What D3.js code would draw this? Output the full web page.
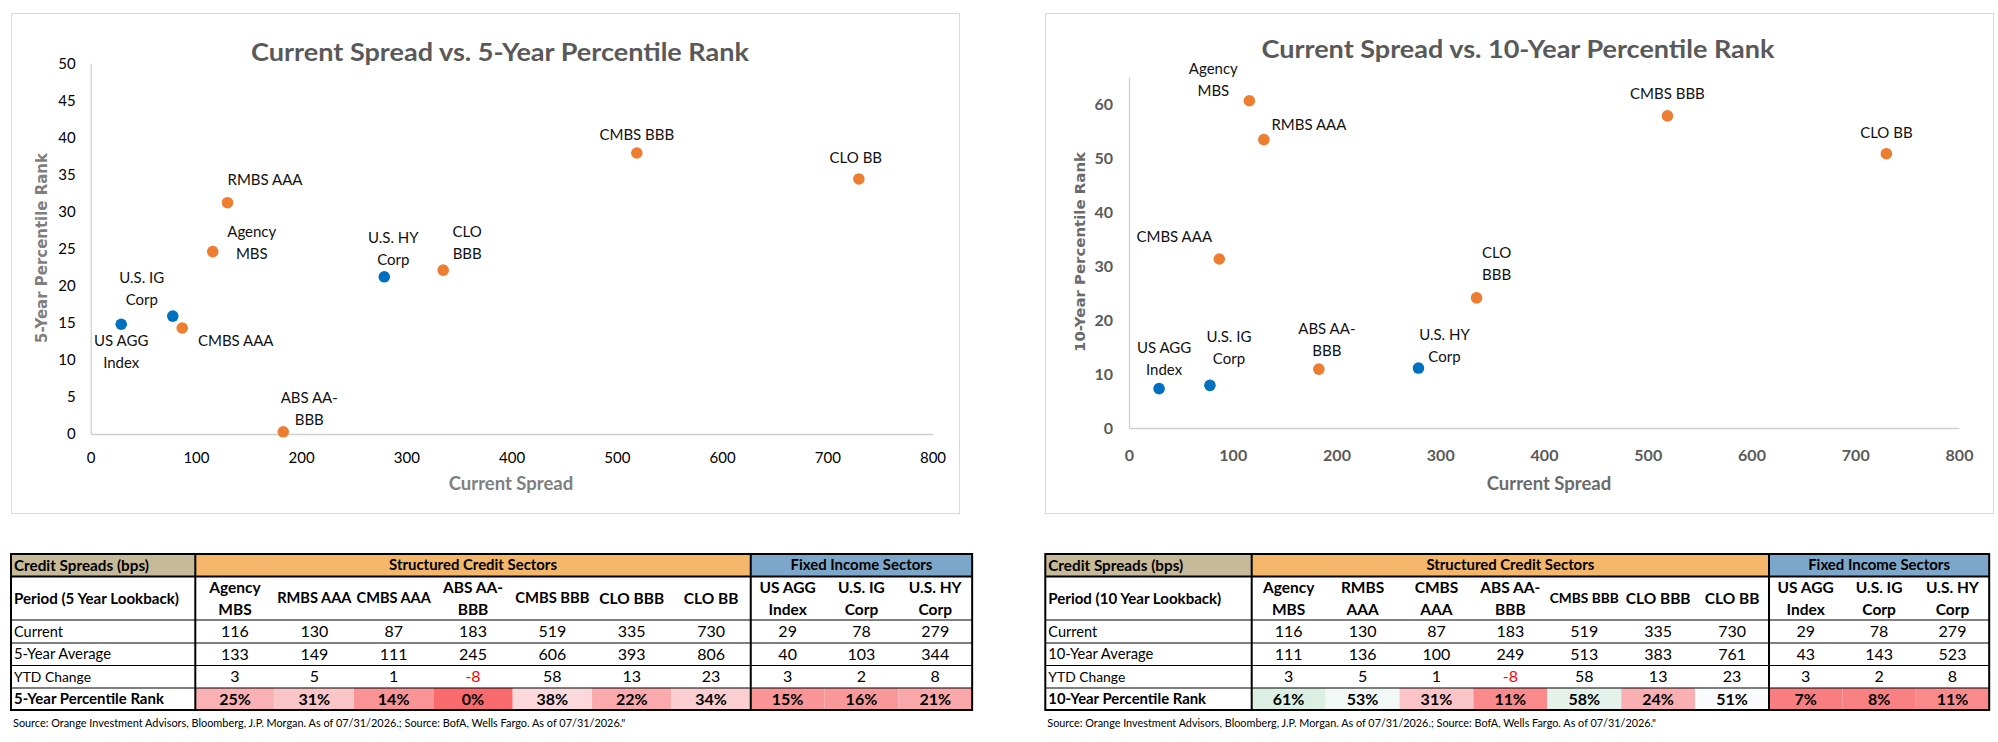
<!DOCTYPE html>
<html>
<head>
<meta charset="utf-8">
<script src="https://cdn.jsdelivr.net/npm/d3@7"></script>
<style>
  html, body { margin: 0; padding: 0; background: #fff; }
  svg { display: block; }
</style>
</head>
<body>
<svg id="chart" width="1998" height="742"></svg>
<script>
// ---------------- DATA ----------------
const sectors = ["Agency MBS","RMBS AAA","CMBS AAA","ABS AA-BBB","CMBS BBB","CLO BBB","CLO BB","US AGG Index","U.S. IG Corp","U.S. HY Corp"];
const sectorGroup = ["S","S","S","S","S","S","S","F","F","F"]; // S = structured credit, F = fixed income
const chartLabels = ["Agency\nMBS","RMBS AAA","CMBS AAA","ABS AA-\nBBB","CMBS BBB","CLO\nBBB","CLO BB","US AGG\nIndex","U.S. IG\nCorp","U.S. HY\nCorp"];
const headers5 = ["Agency\nMBS","RMBS AAA","CMBS AAA","ABS AA-\nBBB","CMBS BBB","CLO BBB","CLO BB","US AGG\nIndex","U.S. IG\nCorp","U.S. HY\nCorp"];
const headers10 = ["Agency\nMBS","RMBS\nAAA","CMBS\nAAA","ABS AA-\nBBB","CMBS BBB","CLO BBB","CLO BB","US AGG\nIndex","U.S. IG\nCorp","U.S. HY\nCorp"];
const currentSpread = [116,130,87,183,519,335,730,29,78,279];
const avg5 = [133,149,111,245,606,393,806,40,103,344];
const avg10 = [111,136,100,249,513,383,761,43,143,523];
const ytdChange = [3,5,1,-8,58,13,23,3,2,8];
const rank5 = [24.6,31.2,14.3,0.3,37.9,22.1,34.4,14.8,15.9,21.2];
const rank10 = [60.6,53.4,31.3,10.9,57.8,24.1,50.8,7.3,7.9,11.1];
const xTicks = [0,100,200,300,400,500,600,700,800];
const yTicks5 = [0,5,10,15,20,25,30,35,40,45,50];
const yTicks10 = [0,10,20,30,40,50,60];
const sourceText = "Source: Orange Investment Advisors, Bloomberg, J.P. Morgan. As of 07/31/2026.; Source: BofA, Wells Fargo. As of 07/31/2026.\"";

// ---------------- LAYOUT ----------------
const FONT = "Lato, 'Open Sans', sans-serif";
const AXF = "'DejaVu Sans', Verdana, sans-serif";
const ORANGE = "#ED7D31", BLUE = "#0070C0";
const svg = d3.select("#chart");
svg.append("rect").attr("width",1998).attr("height",742).attr("fill","#fff");

// scale a text's font-size so it spans the target width; stretch if it would get too large
function fit(sel, target, maxSize) {
  const node = sel.node();
  const s0 = parseFloat(sel.attr("font-size"));
  const w = node.getComputedTextLength();
  if (!w) return sel;
  let s = s0 * target / w;
  if (maxSize && s > maxSize) {
    sel.attr("font-size", maxSize);
    sel.attr("textLength", target).attr("lengthAdjust", "spacingAndGlyphs");
  } else {
    sel.attr("font-size", s);
  }
  return sel;
}

// label offsets (text block centre relative to point)
const labelOff5 = [[39,-9],[37.5,-22.7],[53.5,12.7],[26,-23],[0,-18],[24,-27],[-3,-21],[0,27],[-31,-27],[9,-28]];
const labelOff10 = [[-36,-21],[45,-15],[-45,-22],[8,-29],[0,-22],[20,-34],[0,-21],[5,-30],[19,-38],[26,-22]];

function drawChart(cfg) {
  const g = svg.append("g");
  g.append("rect").attr("x", cfg.box[0]+0.5).attr("y", 13.5).attr("width", 948).attr("height", 500)
    .attr("fill","#fff").attr("stroke","#D9D9D9").attr("stroke-width",1);

  const x = d3.scaleLinear().domain([0,800]).range(cfg.xr);
  const y = d3.scaleLinear().domain(cfg.yd).range(cfg.yr);

  const xa = g.append("g").attr("transform",`translate(0,${cfg.yr[0]})`)
    .call(d3.axisBottom(x).tickValues(xTicks).tickSize(0).tickPadding(cfg.xPad));
  const ya = g.append("g").attr("transform",`translate(${cfg.xr[0]},0)`)
    .call(d3.axisLeft(y).tickValues(cfg.yTicks).tickSize(0).tickPadding(cfg.yPad));
  [xa, ya].forEach(a => {
    a.select(".domain").attr("stroke","#D0D0D0").attr("stroke-width",1.3);
    a.selectAll("text").attr("font-family",FONT).attr("font-size",cfg.tickSize)
      .attr("font-weight",cfg.tickWeight).attr("fill",cfg.tickColor);
  });

  g.append("text").attr("x",cfg.title[1]).attr("y",cfg.title[2]).attr("dy","0.35em")
    .attr("text-anchor","middle").attr("font-family",FONT).attr("font-weight",700)
    .attr("font-size",25).attr("fill","#595959")
    .attr("textLength",cfg.title[3]).attr("lengthAdjust","spacingAndGlyphs")
    .text(cfg.title[0]);
  g.append("text").attr("x",cfg.xTitle[0]).attr("y",cfg.xTitle[1]).attr("dy","0.35em")
    .attr("text-anchor","middle").attr("font-family",FONT).attr("font-weight",700)
    .attr("font-size",18.5).attr("fill",cfg.axTitleColor).text("Current Spread");
  const yt = g.append("text").attr("transform",`translate(${cfg.yTitle[1]},${cfg.yTitle[2]}) rotate(-90)`)
    .attr("dy","0.35em").attr("text-anchor","middle").attr("font-family",AXF).attr("font-weight",700)
    .attr("font-size",14.5).attr("fill",cfg.axTitleColor).text(cfg.yTitle[0]);
  fit(yt, cfg.yTitle[3], 16.5);

  const pts = sectors.map((s,i) => ({i, xv: currentSpread[i], yv: cfg.rank[i], grp: sectorGroup[i]}));
  g.selectAll("circle.pt").data(pts).enter().append("circle")
    .attr("cx", d => x(d.xv)).attr("cy", d => y(d.yv)).attr("r", 5.8)
    .attr("fill", d => d.grp === "S" ? ORANGE : BLUE);

  pts.forEach(d => {
    const lines = chartLabels[d.i].split("\n");
    const off = cfg.off[d.i];
    const cx = x(d.xv) + off[0], cy = y(d.yv) + off[1];
    const lh = 22;
    const t = g.append("text").attr("text-anchor","middle").attr("font-family",FONT)
      .attr("font-size",15).attr("fill","#111");
    lines.forEach((ln,k) => {
      t.append("tspan").attr("x",cx).attr("y", cy + (k - (lines.length-1)/2)*lh).attr("dy","0.35em").text(ln);
    });
  });
}

drawChart({
  box:[11], xr:[90.7,932.5], yd:[0,50], yr:[434,63.3], yTicks: yTicks5, rank: rank5, off: labelOff5,
  xPad:18.5, yPad:15, tickSize:15, tickWeight:400, tickColor:"#000",
  title:["Current Spread vs. 5-Year Percentile Rank",500,52,498],
  xTitle:[511,484], yTitle:["5-Year Percentile Rank",42,248,190], axTitleColor:"#7F7F7F"
});
drawChart({
  box:[1045], xr:[1129,1959], yd:[0,65], yr:[428,77], yTicks: yTicks10, rank: rank10, off: labelOff10,
  xPad:22, yPad:16, tickSize:16, tickWeight:700, tickColor:"#595959",
  title:["Current Spread vs. 10-Year Percentile Rank",1518,49,513],
  xTitle:[1549,484], yTitle:["10-Year Percentile Rank",1080,252,200], axTitleColor:"#6B6B6B"
});

// ---------------- TABLES ----------------
const rankColor = d3.scaleLinear().domain([0,50,100]).range(["#F8696B","#FCFCFF","#63BE7B"]);
const rowY = [554, 576.5, 620, 643, 665.5, 688, 710];

function drawTable(cfg) {
  const g = svg.append("g");
  const colX = [cfg.x0, cfg.x0 + cfg.c0];
  for (let i=0;i<7;i++) colX.push(colX[colX.length-1] + cfg.sw);
  for (let i=0;i<3;i++) colX.push(colX[colX.length-1] + cfg.fw);
  const xEnd = colX[colX.length-1];
  const sEnd = colX[8];
  g.append("rect").attr("x",colX[0]).attr("y",rowY[0]).attr("width",colX[1]-colX[0]).attr("height",rowY[1]-rowY[0]).attr("fill","#C6BA9A");
  g.append("rect").attr("x",colX[1]).attr("y",rowY[0]).attr("width",sEnd-colX[1]).attr("height",rowY[1]-rowY[0]).attr("fill","#F3B66A");
  g.append("rect").attr("x",sEnd).attr("y",rowY[0]).attr("width",xEnd-sEnd).attr("height",rowY[1]-rowY[0]).attr("fill","#7DA7CA");
  cfg.rank.forEach((v,i) => {
    g.append("rect").attr("x",colX[i+1]).attr("y",rowY[5]).attr("width",colX[i+2]-colX[i+1]).attr("height",rowY[6]-rowY[5])
      .attr("fill", rankColor(v));
  });
  const line = (x1,y1,x2,y2,w) => g.append("line").attr("x1",x1).attr("y1",y1).attr("x2",x2).attr("y2",y2)
      .attr("stroke","#000").attr("stroke-width",w);
  [2,3,4,5].forEach(r => line(colX[0],rowY[r],xEnd,rowY[r],1.2));
  line(colX[0],rowY[1],xEnd,rowY[1],2);
  line(colX[1],rowY[0],colX[1],rowY[6],2);
  line(sEnd,rowY[0],sEnd,rowY[6],2);
  g.append("rect").attr("x",colX[0]).attr("y",rowY[0]).attr("width",xEnd-colX[0]).attr("height",rowY[6]-rowY[0])
    .attr("fill","none").attr("stroke","#000").attr("stroke-width",2);

  const txt = (x,y,s,opts={}) => g.append("text").attr("x",x).attr("y",y).attr("dy","0.35em")
      .attr("text-anchor",opts.anchor||"middle").attr("font-family",FONT).attr("font-size",opts.size||16)
      .attr("font-weight",opts.bold?700:400).attr("fill",opts.fill||"#000").text(s);
  const mid = r => (rowY[r]+rowY[r+1])/2;
  const lx = colX[0] + 3;
  fit(txt(lx, mid(0), "Credit Spreads (bps)", {anchor:"start", bold:true}), 135);
  fit(txt((colX[1]+sEnd)/2, mid(0), "Structured Credit Sectors", {bold:true}), 168);
  fit(txt((sEnd+xEnd)/2, mid(0), "Fixed Income Sectors", {bold:true}), 142);
  fit(txt(lx, mid(1), cfg.periodLabel, {anchor:"start", bold:true}), cfg.w[0]);
  fit(txt(lx, mid(2), "Current", {anchor:"start"}), 49);
  fit(txt(lx, mid(3), cfg.avgLabel, {anchor:"start"}), cfg.w[1]);
  fit(txt(lx, mid(4), "YTD Change", {anchor:"start"}), 77);
  fit(txt(lx, mid(5), cfg.rankLabel, {anchor:"start", bold:true}), cfg.w[2]);
  cfg.headers.forEach((h,i) => {
    const cx = (colX[i+1]+colX[i+2])/2;
    const lines = h.split("\n");
    lines.forEach((ln,k) => {
      const t = txt(cx, mid(1) + (k-(lines.length-1)/2)*22, ln, {bold:true, size:15.5});
      const maxW = (colX[i+2]-colX[i+1]) - 5;
      if (t.node().getComputedTextLength() > maxW) fit(t, maxW);
    });
    txt(cx, mid(2), String(currentSpread[i]));
    txt(cx, mid(3), String(cfg.avg[i]));
    txt(cx, mid(4), String(ytdChange[i]), {fill: ytdChange[i] < 0 ? "#FF0000" : "#000"});
    txt(cx, mid(5), Math.round(cfg.rank[i]) + "%", {bold:true});
  });
  const src = g.append("text").attr("x",cfg.x0+2).attr("y",723).attr("dy","0.35em").attr("font-family",FONT)
    .attr("font-size",11).attr("fill","#000").text(sourceText);
  fit(src, cfg.w[3]);
}

drawTable({x0:11, c0:184.3, sw:79.35, fw:73.8, headers:headers5, avg:avg5, rank:rank5,
  periodLabel:"Period (5 Year Lookback)", avgLabel:"5-Year Average", rankLabel:"5-Year Percentile Rank",
  w:[165, 97, 150, 613]});
drawTable({x0:1045.3, c0:206.4, sw:73.9, fw:73.4, headers:headers10, avg:avg10, rank:rank10,
  periodLabel:"Period (10 Year Lookback)", avgLabel:"10-Year Average", rankLabel:"10-Year Percentile Rank",
  w:[173, 105, 158, 609]});
</script>
</body>
</html>
